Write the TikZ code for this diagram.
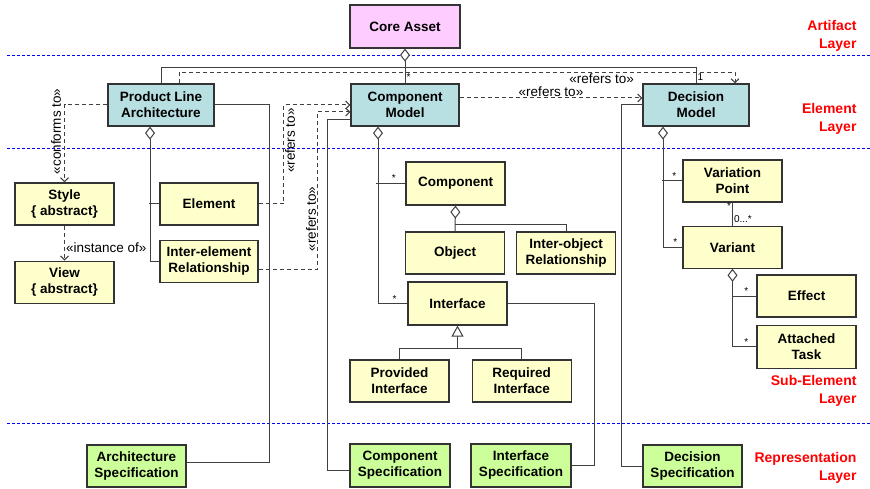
\documentclass[tikz,border=0pt]{standalone}
\usepackage{fontspec}
\setmainfont{Liberation Sans}
\usepackage{xcolor}
\usetikzlibrary{positioning,calc,arrows.meta}

\definecolor{elemfill}{HTML}{B8DFE1}
\definecolor{subfill}{HTML}{FFFFCC}
\definecolor{repfill}{HTML}{CCFF99}
\definecolor{assetfill}{HTML}{FFCCFF}

\begin{document}
\begin{tikzpicture}[x=1pt, y=-1pt,
    font=\fontsize{13.5}{16}\selectfont\bfseries,
    box/.style={draw=black!80, line width=1.2pt, minimum width=99pt,
                minimum height=42pt, align=center, inner sep=1pt},
    line/.style={draw=black!75, line width=1pt},
    dep/.style={line, dash pattern=on 4pt off 3pt,
                -{Straight Barb[length=4pt,width=8pt]}},
    agg/.style={line, {Diamond[open, fill=white, length=13pt, width=10pt]}-},
    gen/.style={line, {Triangle[open, fill=white, length=11pt, width=12pt]}-},
    lbl/.style={font=\fontsize{13.5}{15}\selectfont\mdseries, inner sep=1pt},
    star/.style={font=\fontsize{10}{10}\selectfont\mdseries, inner sep=1pt},
    layer/.style={draw=blue, line width=0.8pt, dash pattern=on 3pt off 2pt},
    layertext/.style={text=red, align=right, anchor=east,
                      font=\fontsize{14}{18}\selectfont\bfseries}]
  \useasboundingbox (0,0) rectangle (870,489);
  % layers
  \draw[layer] (7,55) -- (870,55);
  \draw[layer] (7,148) -- (870,148);
  \draw[layer] (7,423) -- (870,423);
  \node[layertext] (lart) at (860,36) {Artifact\\Layer};
  \node[layertext] (lelem) at (860,119) {Element\\Layer};
  \node[layertext] (lsub) at (860,391) {Sub-Element\\Layer};
  \node[layertext] (lrep) at (860,468) {Representation\\Layer};

  % artifact and element layer
  \node[box, fill=assetfill, minimum width=110pt, minimum height=43pt] (core) at (405,26.5) {Core Asset};
  \node[box, fill=elemfill, minimum width=106pt] (pla) at (161,105) {Product Line\\Architecture};
  \node[box, fill=elemfill, minimum width=108pt] (cm) at (405,105) {Component\\Model};
  \node[box, fill=elemfill, minimum width=106pt] (dm) at (696,105) {Decision\\Model};

  % sub-element layer
  \node[box, fill=subfill] (style) at (64.5,204) {Style\\\{ abstract\}};
  \node[box, fill=subfill, below=35pt of style] (view) {View\\\{ abstract\}};
  \node[box, fill=subfill, minimum width=98pt] (elem) at (209,204) {Element};
  \node[box, fill=subfill, minimum width=98pt, below=14pt of elem] (ierel) {Inter-element\\Relationship};
  \node[box, fill=subfill, minimum height=43pt] (comp) at (455.5,183.5) {Component};
  \node[box, fill=subfill] (obj) at (455,253) {Object};
  \node[box, fill=subfill, right=11pt of obj] (iorel) {Inter-object\\Relationship};
  \node[box, fill=subfill, minimum height=43pt] (intf) at (457.5,303.5) {Interface};
  \node[box, fill=subfill] (prov) at (399.5,381) {Provided\\Interface};
  \node[box, fill=subfill, right=22pt of prov] (req) {Required\\Interface};
  \node[box, fill=subfill] (vp) at (732.5,181) {Variation\\Point};
  \node[box, fill=subfill, below=23pt of vp] (var) {Variant};
  \node[box, fill=subfill] (eff) at (806.5,296) {Effect};
  \node[box, fill=subfill, minimum height=43pt, below=7pt of eff] (task) {Attached\\Task};

  % representation layer
  \node[box, fill=repfill] (aspec) at (136.5,466) {Architecture\\Specification};
  \node[box, fill=repfill, minimum width=100pt, minimum height=43pt] (cspec) at (400,465.5) {Component\\Specification};
  \node[box, fill=repfill, minimum width=100pt, minimum height=43pt] (ispec) at (521,465.5) {Interface\\Specification};
  \node[box, fill=repfill] (dspec) at (692.5,466) {Decision\\Specification};

  % core asset
  \draw[agg] (core.south) -- node[star, right, pos=0.83] {*} (cm.north);
  \draw[line] (pla.north) -- ++(0,-16) -| node[star, right, pos=0.81] {1} (dm.north);
  \draw[dep] ([xshift=18pt]pla.north) -- ++(0,-11) -| node[lbl, below, pos=0.38] {«refers to»} ([xshift=39pt]dm.north);
  \draw[dep] ([yshift=7pt]cm.east) -- node[lbl, above] {«refers to»} ([yshift=7pt]dm.west);

  % product line architecture
  \draw[dep] (pla.west) -| node[lbl, rotate=90, anchor=south, inner sep=3pt, pos=0.67] {«conforms to»} (style.north);
  \draw[dep] (style.south) -- node[lbl, right, pos=0.63] {«instance of»} (view.north);
  \draw[agg] ([xshift=-11pt]pla.south) |- (ierel.west);
  \draw[line] (elem.west) -- ++(-10,0);
  \draw[line] (pla.east) -- ++(55,0) |- ([yshift=4pt]aspec.east);
  \draw[dep] (elem.east) -- ++(25,0) |- node[lbl, rotate=90, anchor=north, pos=0.32] {«refers to»} (cm.west);
  \draw[dep] ([yshift=-8pt]ierel.east) -- ++(59,0) |- node[lbl, rotate=90, anchor=south, pos=0.16] {«refers to»} ([yshift=-7pt]cm.west);

  % component model
  \draw[line] ([yshift=-15pt]cm.west) -- ++(-23,0) |- ([yshift=-5pt]cspec.west);
  \draw[agg] ([xshift=-27pt]cm.south) |- node[star, above, pos=0.78] {*} (intf.west);
  \draw[line] (comp.west) -- node[star, above, pos=0.4] {*} ++(-29,0);
  \draw[agg] (comp.south) -- (obj.north);
  \draw[line] ([yshift=7pt]obj.north) -| (iorel.north);
  \draw[line] (intf.east) -- ++(87,0) |- (ispec.east);
  \draw[gen] (intf.south) -- ++(0,23) -| (prov.north);
  \draw[line] (intf.south) ++(0,23) -| (req.north);

  % decision model
  \draw[line] (dm.west) -- ++(-21,0) |- (dspec.west);
  \draw[agg] ([xshift=-33pt]dm.south) |- node[star, above, pos=0.82] {*} (var.west);
  \draw[line] (vp.west) -- node[star, above, pos=0.4] {*} ++(-20,0);
  \draw[line] (vp) -- node[star, left, pos=0.15] {*} node[star, right, pos=0.7] {0...*} (var);
  \draw[agg] (var.south) |- node[star, above, pos=0.79] {*} (task.west);
  \draw[line] (eff.west) -- node[star, above, pos=0.42] {*} ++(-24,0);
\end{tikzpicture}
\end{document}
